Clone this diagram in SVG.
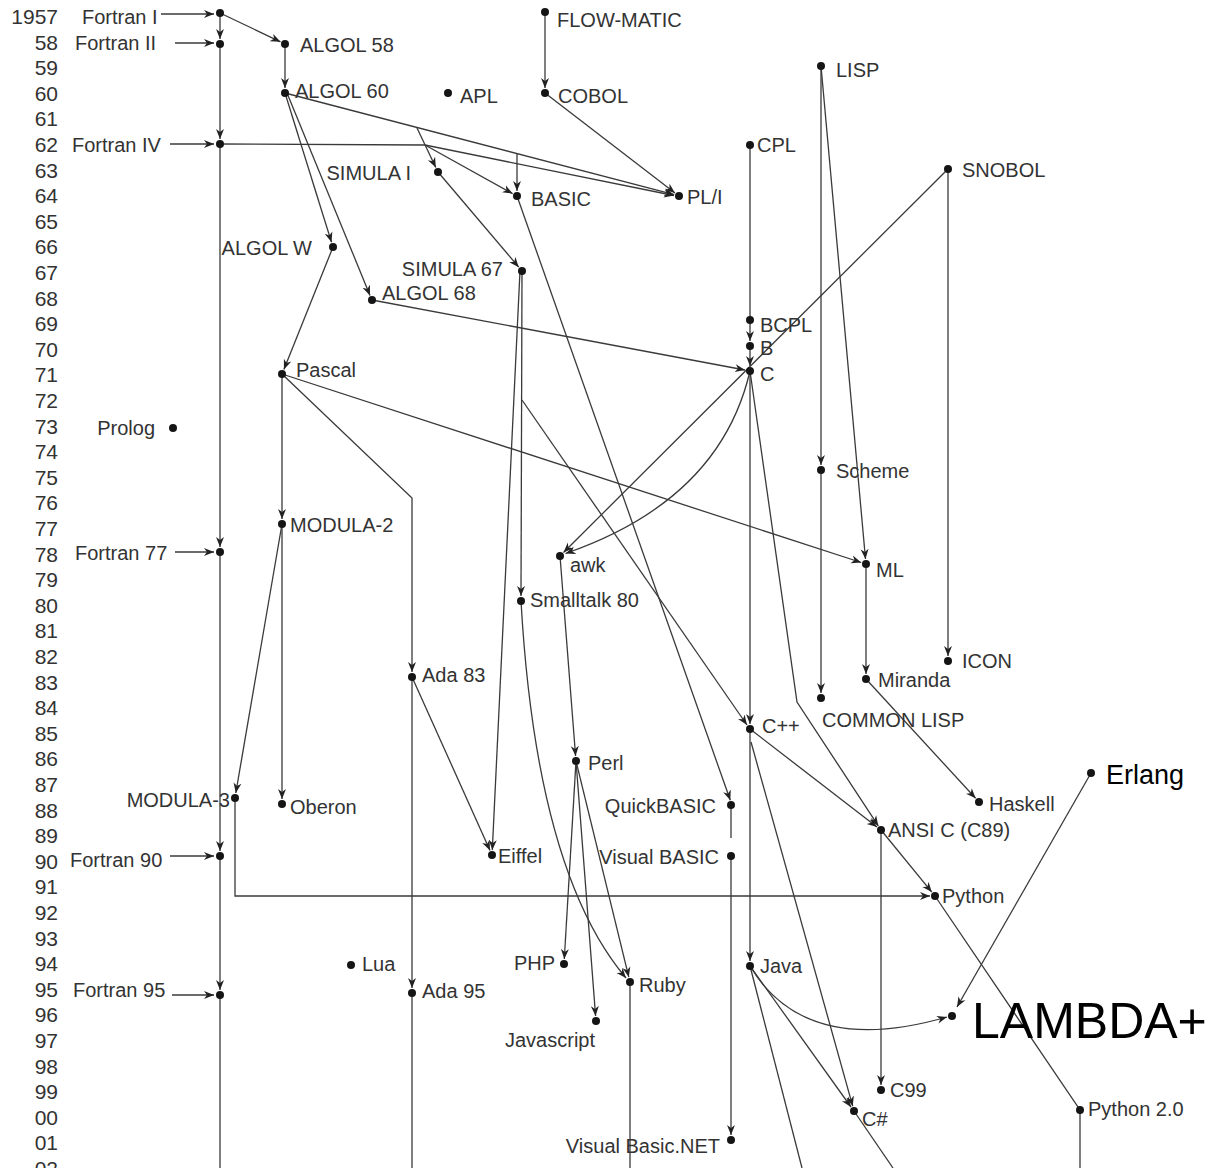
<svg xmlns="http://www.w3.org/2000/svg" width="1214" height="1168" viewBox="0 0 1214 1168">
<style>
text{font-family:"Liberation Sans",Arial,sans-serif;fill:#333}
.yr{font-size:21px;text-anchor:end}
.lb{font-size:20px}
.e{text-anchor:end}
.big{fill:#000}
circle{fill:#151515}
#edges path{fill:none;stroke:#3a3a3a;stroke-width:1.3}
#edges .a{marker-end:url(#ah)}
</style>
<defs>
<marker id="ah" markerWidth="11" markerHeight="9" refX="10" refY="4.5" orient="auto" markerUnits="userSpaceOnUse">
<path d="M0,0.5 L10,4.5 L0,8.5 L3,4.5 z" fill="#222"/>
</marker>
</defs>
<rect width="1214" height="1168" fill="#fff"/>
<g id="years">
<text class="yr" x="58" y="24">1957</text>
<text class="yr" x="58" y="49.6">58</text>
<text class="yr" x="58" y="75.2">59</text>
<text class="yr" x="58" y="100.8">60</text>
<text class="yr" x="58" y="126.4">61</text>
<text class="yr" x="58" y="152">62</text>
<text class="yr" x="58" y="177.6">63</text>
<text class="yr" x="58" y="203.2">64</text>
<text class="yr" x="58" y="228.8">65</text>
<text class="yr" x="58" y="254.4">66</text>
<text class="yr" x="58" y="280">67</text>
<text class="yr" x="58" y="305.6">68</text>
<text class="yr" x="58" y="331.2">69</text>
<text class="yr" x="58" y="356.8">70</text>
<text class="yr" x="58" y="382.4">71</text>
<text class="yr" x="58" y="408">72</text>
<text class="yr" x="58" y="433.6">73</text>
<text class="yr" x="58" y="459.2">74</text>
<text class="yr" x="58" y="484.8">75</text>
<text class="yr" x="58" y="510.4">76</text>
<text class="yr" x="58" y="536">77</text>
<text class="yr" x="58" y="561.6">78</text>
<text class="yr" x="58" y="587.2">79</text>
<text class="yr" x="58" y="612.8">80</text>
<text class="yr" x="58" y="638.4">81</text>
<text class="yr" x="58" y="664">82</text>
<text class="yr" x="58" y="689.6">83</text>
<text class="yr" x="58" y="715.2">84</text>
<text class="yr" x="58" y="740.8">85</text>
<text class="yr" x="58" y="766.4">86</text>
<text class="yr" x="58" y="792">87</text>
<text class="yr" x="58" y="817.6">88</text>
<text class="yr" x="58" y="843.2">89</text>
<text class="yr" x="58" y="868.8">90</text>
<text class="yr" x="58" y="894.4">91</text>
<text class="yr" x="58" y="920">92</text>
<text class="yr" x="58" y="945.6">93</text>
<text class="yr" x="58" y="971.2">94</text>
<text class="yr" x="58" y="996.8">95</text>
<text class="yr" x="58" y="1022.4">96</text>
<text class="yr" x="58" y="1048">97</text>
<text class="yr" x="58" y="1073.6">98</text>
<text class="yr" x="58" y="1099.2">99</text>
<text class="yr" x="58" y="1124.8">00</text>
<text class="yr" x="58" y="1150.4">01</text>
<text class="yr" x="58" y="1176">02</text>
</g>
<g id="edges">
<path class="a" d="M161,14 H214"/>
<path class="a" d="M175,43 H214"/>
<path class="a" d="M170,144 H214"/>
<path class="a" d="M175,552 H214"/>
<path class="a" d="M170,856 H214"/>
<path class="a" d="M172,995 H214"/>
<path class="a" d="M220,13 V39"/>
<path class="a" d="M220,13 L280.5,41.8"/>
<path class="a" d="M285,44 V88"/>
<path class="a" d="M220,44 V139"/>
<path class="a" d="M220,144 V547"/>
<path class="a" d="M220,552 V851"/>
<path class="a" d="M220,856 V990"/>
<path d="M220,995 V1168"/>
<path class="a" d="M545,12 V88"/>
<path class="a" d="M545,93 L675,193"/>
<path class="a" d="M285,93 L674.2,194.7"/>
<path class="a" d="M220,144 L425,145 L674,195.5"/>
<path class="a" d="M425,145 L512.6,193.6"/>
<path class="a" d="M517,153 V191"/>
<path class="a" d="M417,128 L435.8,167.5"/>
<path class="a" d="M285,93 L331.5,242.2"/>
<path class="a" d="M287,93 L370,295.4"/>
<path class="a" d="M438,172 L518.8,267.2"/>
<path class="a" d="M372,300 L745,370"/>
<path d="M750,145 V320"/>
<path class="a" d="M750,320 V341"/>
<path class="a" d="M750,346 V366"/>
<path class="a" d="M948,169 L563.5,552.5"/>
<path class="a" d="M750,371 Q720,500 565.5,553.5"/>
<path class="a" d="M750,371 V724"/>
<path class="a" d="M750,371 L797,702 L878.3,825.9"/>
<path class="a" d="M750,729 L877,827"/>
<path class="a" d="M881,830 L931.8,892.1"/>
<path class="a" d="M235,798 V896 H930"/>
<path class="a" d="M881,830 V1085"/>
<path class="a" d="M751,742 L852.7,1106.2"/>
<path class="a" d="M750,729 V961"/>
<path class="a" d="M750,966 L851,1107"/>
<path d="M750,966 L802,1168"/>
<path d="M854,1111 L893,1168"/>
<path class="a" d="M750,966 Q805,1058 947,1017"/>
<path class="a" d="M1091,773 L957,1007"/>
<path d="M935,896 L1080,1110 V1168"/>
<path class="a" d="M282,524 L235.8,793"/>
<path class="a" d="M282,374 V519"/>
<path class="a" d="M282,524 V799"/>
<path class="a" d="M333,247 L283.9,369.4"/>
<path class="a" d="M282,374 L861.2,562.5"/>
<path class="a" d="M282,374 L412,498 V672"/>
<path class="a" d="M412,677 V988"/>
<path d="M412,993 V1168"/>
<path class="a" d="M412,677 L490,850.4"/>
<path class="a" d="M520,271 L492.3,850"/>
<path class="a" d="M522,271 L521,596"/>
<path class="a" d="M522,400 L747,725"/>
<path class="a" d="M517,196 L730.3,800.3"/>
<path d="M731,805 V838"/>
<path class="a" d="M731,856 V1135"/>
<path class="a" d="M560,556 L575.6,756"/>
<path class="a" d="M576,761 L564.3,959"/>
<path class="a" d="M576,761 L595.6,1016"/>
<path class="a" d="M576,761 L628.8,977.1"/>
<path class="a" d="M521,601 C530,760 560,900 626,978"/>
<path d="M630,982 V1168"/>
<path class="a" d="M821,66 V465"/>
<path class="a" d="M821,66 L865.5,559"/>
<path class="a" d="M821,470 V693"/>
<path class="a" d="M866,564 V674"/>
<path class="a" d="M866,679 L975.6,798.3"/>
<path class="a" d="M948,169 V656"/>
</g>
<g id="n-fortran1"><circle cx="220" cy="13" r="4"/><text class="lb" x="82" y="24">Fortran I</text></g>
<g id="n-fortran2"><circle cx="220" cy="44" r="4"/><text class="lb" x="75" y="50">Fortran II</text></g>
<g id="n-fortran4"><circle cx="220" cy="144" r="4"/><text class="lb" x="72" y="152">Fortran IV</text></g>
<g id="n-fortran77"><circle cx="220" cy="552" r="4"/><text class="lb" x="75" y="560">Fortran 77</text></g>
<g id="n-fortran90"><circle cx="220" cy="856" r="4"/><text class="lb" x="70" y="867">Fortran 90</text></g>
<g id="n-fortran95"><circle cx="220" cy="995" r="4"/><text class="lb" x="73" y="997">Fortran 95</text></g>
<g id="n-algol58"><circle cx="285" cy="44" r="4"/><text class="lb" x="300" y="52">ALGOL 58</text></g>
<g id="n-algol60"><circle cx="285" cy="93" r="4"/><text class="lb" x="295" y="98">ALGOL 60</text></g>
<g id="n-apl"><circle cx="448" cy="93" r="4"/><text class="lb" x="460" y="103">APL</text></g>
<g id="n-flowmatic"><circle cx="545" cy="12" r="4"/><text class="lb" x="557" y="27">FLOW-MATIC</text></g>
<g id="n-cobol"><circle cx="545" cy="93" r="4"/><text class="lb" x="558" y="103">COBOL</text></g>
<g id="n-pl1"><circle cx="679" cy="196" r="4"/><text class="lb" x="687" y="204">PL/I</text></g>
<g id="n-lisp"><circle cx="821" cy="66" r="4"/><text class="lb" x="836" y="77">LISP</text></g>
<g id="n-cpl"><circle cx="750" cy="145" r="4"/><text class="lb" x="757" y="152">CPL</text></g>
<g id="n-snobol"><circle cx="948" cy="169" r="4"/><text class="lb" x="962" y="177">SNOBOL</text></g>
<g id="n-simula1"><circle cx="438" cy="172" r="4"/><text class="lb e" x="411" y="180">SIMULA I</text></g>
<g id="n-basic"><circle cx="517" cy="196" r="4"/><text class="lb" x="531" y="206">BASIC</text></g>
<g id="n-algolw"><circle cx="333" cy="247" r="4"/><text class="lb e" x="312" y="255">ALGOL W</text></g>
<g id="n-simula67"><circle cx="522" cy="271" r="4"/><text class="lb e" x="503" y="276">SIMULA 67</text></g>
<g id="n-algol68"><circle cx="372" cy="300" r="4"/><text class="lb" x="382" y="300">ALGOL 68</text></g>
<g id="n-bcpl"><circle cx="750" cy="320" r="4"/><text class="lb" x="760" y="332">BCPL</text></g>
<g id="n-b"><circle cx="750" cy="346" r="4"/><text class="lb" x="760" y="355">B</text></g>
<g id="n-c"><circle cx="750" cy="371" r="4"/><text class="lb" x="760" y="381">C</text></g>
<g id="n-pascal"><circle cx="282" cy="374" r="4"/><text class="lb" x="296" y="377">Pascal</text></g>
<g id="n-prolog"><circle cx="173" cy="428" r="4"/><text class="lb e" x="155" y="435">Prolog</text></g>
<g id="n-scheme"><circle cx="821" cy="470" r="4"/><text class="lb" x="836" y="478">Scheme</text></g>
<g id="n-modula2"><circle cx="282" cy="524" r="4"/><text class="lb" x="290" y="532">MODULA-2</text></g>
<g id="n-awk"><circle cx="560" cy="556" r="4"/><text class="lb" x="570" y="572">awk</text></g>
<g id="n-ml"><circle cx="866" cy="564" r="4"/><text class="lb" x="876" y="577">ML</text></g>
<g id="n-smalltalk"><circle cx="521" cy="601" r="4"/><text class="lb" x="530" y="607">Smalltalk 80</text></g>
<g id="n-icon"><circle cx="948" cy="661" r="4"/><text class="lb" x="962" y="668">ICON</text></g>
<g id="n-ada83"><circle cx="412" cy="677" r="4"/><text class="lb" x="422" y="682">Ada 83</text></g>
<g id="n-miranda"><circle cx="866" cy="679" r="4"/><text class="lb" x="878" y="687">Miranda</text></g>
<g id="n-commonlisp"><circle cx="821" cy="698" r="4"/><text class="lb" x="822" y="727">COMMON LISP</text></g>
<g id="n-cpp"><circle cx="750" cy="729" r="4"/><text class="lb" x="762" y="733">C++</text></g>
<g id="n-perl"><circle cx="576" cy="761" r="4"/><text class="lb" x="588" y="770">Perl</text></g>
<g id="n-erlang"><circle cx="1091" cy="773" r="4"/><text class="big" x="1106" y="784" style="font-size:27px">Erlang</text></g>
<g id="n-modula3"><circle cx="235" cy="798" r="4"/><text class="lb e" x="230" y="807">MODULA-3</text></g>
<g id="n-oberon"><circle cx="282" cy="804" r="4"/><text class="lb" x="290" y="814">Oberon</text></g>
<g id="n-quickbasic"><circle cx="731" cy="805" r="4"/><text class="lb e" x="716" y="813">QuickBASIC</text></g>
<g id="n-haskell"><circle cx="979" cy="802" r="4"/><text class="lb" x="989" y="811">Haskell</text></g>
<g id="n-ansic"><circle cx="881" cy="830" r="4"/><text class="lb" x="888" y="837">ANSI C (C89)</text></g>
<g id="n-eiffel"><circle cx="492" cy="855" r="4"/><text class="lb" x="498" y="863">Eiffel</text></g>
<g id="n-visualbasic"><circle cx="731" cy="856" r="4"/><text class="lb e" x="719" y="864">Visual BASIC</text></g>
<g id="n-python"><circle cx="935" cy="896" r="4"/><text class="lb" x="942" y="903">Python</text></g>
<g id="n-java"><circle cx="750" cy="966" r="4"/><text class="lb" x="760" y="973">Java</text></g>
<g id="n-php"><circle cx="564" cy="964" r="4"/><text class="lb e" x="555" y="970">PHP</text></g>
<g id="n-lua"><circle cx="351" cy="965" r="4"/><text class="lb" x="362" y="971">Lua</text></g>
<g id="n-ada95"><circle cx="412" cy="993" r="4"/><text class="lb" x="422" y="998">Ada 95</text></g>
<g id="n-ruby"><circle cx="630" cy="982" r="4"/><text class="lb" x="639" y="992">Ruby</text></g>
<g id="n-javascript"><circle cx="596" cy="1021" r="4"/><text class="lb" x="505" y="1047">Javascript</text></g>
<g id="n-lambda"><circle cx="952" cy="1016" r="4"/><text class="big" x="972" y="1038" style="font-size:50px">LAMBDA+</text></g>
<g id="n-c99"><circle cx="881" cy="1090" r="4"/><text class="lb" x="890" y="1097">C99</text></g>
<g id="n-csharp"><circle cx="854" cy="1111" r="4"/><text class="lb" x="862" y="1126">C#</text></g>
<g id="n-python2"><circle cx="1080" cy="1110" r="4"/><text class="lb" x="1088" y="1116">Python 2.0</text></g>
<g id="n-vbnet"><circle cx="731" cy="1140" r="4"/><text class="lb e" x="720" y="1153">Visual Basic.NET</text></g>
</svg>
